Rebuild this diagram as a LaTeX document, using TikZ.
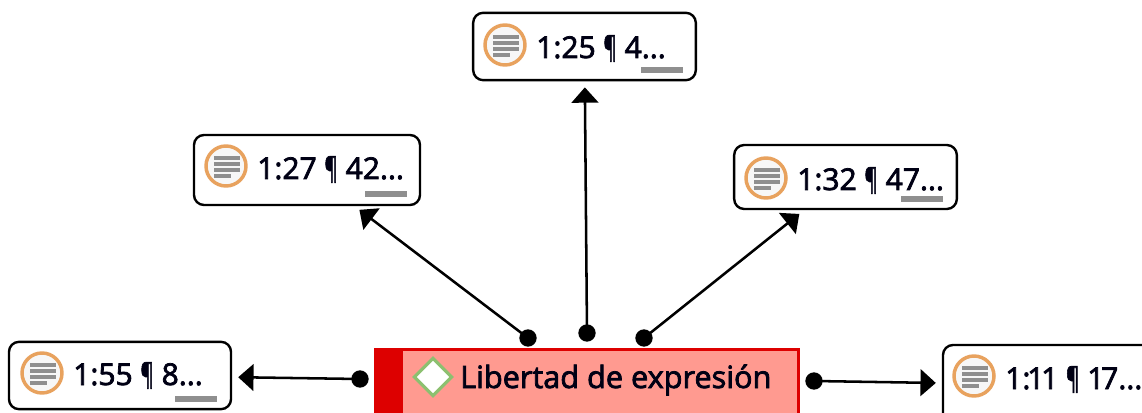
\documentclass[tikz,border=0pt]{standalone}
\usepackage{fontspec}
\setmainfont{Open Sans}
\newfontfamily\boxfont[FakeBold=2.5]{Open Sans}
\usetikzlibrary{arrows.meta,shapes.geometric}
\definecolor{iconorange}{HTML}{E8A25E}
\definecolor{icongray}{HTML}{8F8F8F}
\definecolor{barred}{HTML}{DD0000}
\definecolor{salmon}{HTML}{FF9A90}
\definecolor{diagreen}{HTML}{8CC070}
\newcommand{\pil}{\scalebox{0.68}[1]{¶}}
\newcommand{\nar}{\kern-2.4pt}
\tikzset{
  x=0.75pt,y=-0.75pt,
  quotebox/.style={draw=black,line width=1.8pt,rounded corners=7.5pt,fill=white,inner sep=0pt},
  boxlabel/.style={anchor=base west,inner sep=0pt,font=\boxfont\fontsize{22.5}{26}\selectfont,text=black!92!blue},
  mainlabel/.style={boxlabel,font=\boxfont\fontsize{23}{26}\selectfont},
  dotnode/.style={circle,fill=black,inner sep=0pt,minimum size=13pt},
  linkline/.style={draw=black,line width=1.9pt,-{Triangle[length=11.5pt,width=20pt]},shorten >=4.5pt},
  iconring/.style={circle,draw=iconorange,line width=2.6pt,fill=black!3,inner sep=0pt,minimum size=30pt},
  iconline/.style={icongray,line width=2.4pt},
  underbar/.style={fill=icongray,draw=none,inner sep=0pt,minimum width=31.5pt,minimum height=4pt},
}
\newcommand{\docicon}[3]{%
  \node[iconring] (#1) at (#2,#3) {};
  \draw[iconline] (#2-12,#3-8) -- (#2+14,#3-8);
  \draw[iconline] (#2-12,#3-2) -- (#2+14,#3-2);
  \draw[iconline] (#2-12,#3+4) -- (#2+14,#3+4);
  \draw[iconline] (#2-12,#3+10) -- (#2+5,#3+10);
}
\begin{document}
\begin{tikzpicture}
\useasboundingbox (0,0) rectangle (1142,413);
\clip (0,0) rectangle (1142,413);
% boxes
\node[quotebox,minimum width=167pt,minimum height=50.5pt] (top) at (584.5,46.5) {};
\node[quotebox,minimum width=169.5pt,minimum height=52.5pt] (nw) at (307,170) {};
\node[quotebox,minimum width=167pt,minimum height=48pt] (ne) at (845.5,177) {};
\node[quotebox,minimum width=166.5pt,minimum height=50.5pt] (west) at (120,375.5) {};
\node[quotebox,minimum width=180pt,minimum height=60pt] (east) at (1063,385) {};
% main code box
\node[draw=barred,line width=2.2pt,fill=salmon,minimum width=317pt,minimum height=70pt,inner sep=0pt] (main) at (587,396) {};
\node[fill=barred,inner sep=0pt,minimum width=21pt,minimum height=70pt] (redbar) at (389,396) {};
\node[diamond,draw=diagreen,line width=2.4pt,fill=white,inner sep=0pt,minimum width=29pt,minimum height=29pt] (dia) at (433,377) {};
\node[mainlabel] (maintext) at (460,388) {Libertad de expresión};
% icons
\docicon{i1}{505}{45}
\docicon{i2}{226}{166}
\docicon{i3}{766}{178}
\docicon{i4}{42}{373}
\docicon{i5}{974}{376}
% labels
\node[boxlabel] (t1) at (536,58) {1:25 \pil{} 4...};
\node[boxlabel] (t2) at (257,179) {1:27 \pil{} 42...};
\node[boxlabel] (t3) at (797,190) {1:32 \pil{} 47...};
\node[boxlabel] (t4) at (73,385) {1:55 \pil{} 8...};
\node[boxlabel] (t5) at (1005,389) {1:\nar 1\nar 1 \pil{} 1\nar 7...};
% underbars
\node[underbar] (b1) at (662,70) {};
\node[underbar] (b2) at (386,194) {};
\node[underbar] (b3) at (922,199) {};
\node[underbar] (b4) at (196,399) {};
% dots
\node[dotnode] (d1) at (587,333) {};
\node[dotnode] (d2) at (528,338) {};
\node[dotnode] (d3) at (644,338) {};
\node[dotnode] (d4) at (360,379) {};
\node[dotnode] (d5) at (814,381) {};
% links
\draw[linkline] (d1.center) -- (top);
\draw[linkline] (d2.center) -- (nw);
\draw[linkline] (d3.center) -- (ne);
\draw[linkline] (d4.center) -- (west);
\draw[linkline] (d5.center) -- (east);
\end{tikzpicture}
\end{document}
